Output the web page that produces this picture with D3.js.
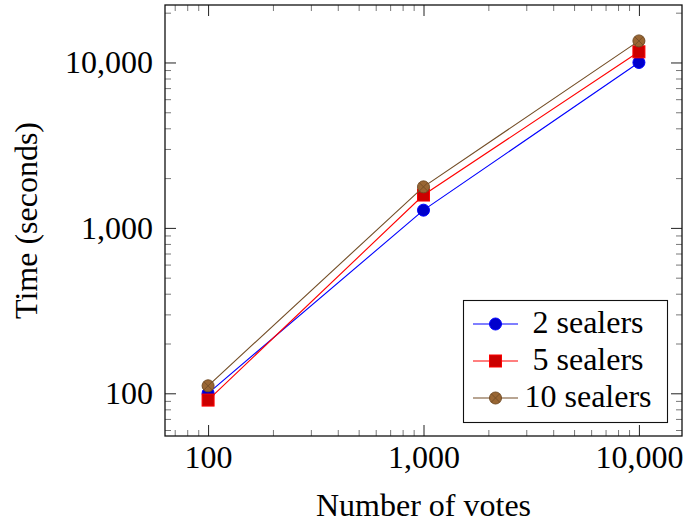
<!DOCTYPE html>
<html>
<head>
<meta charset="utf-8">
<script src="https://cdn.jsdelivr.net/npm/d3@7"></script>
<style>
  html, body { margin: 0; padding: 0; background: #fff; }
  svg { display: block; }
</style>
</head>
<body>
<svg id="chart" width="685" height="522"></svg>
<script>
// ---- data ----
const votes = [100, 1000, 10000];
const seriesNames = ["2 sealers", "5 sealers", "10 sealers"];
const sealers2 = [100, 1280, 10000];
const sealers5 = [91, 1580, 11600];
const sealers10 = [111, 1770, 13500];
const xTickValues = [100, 1000, 10000];
const yTickValues = [100, 1000, 10000];
const xLabel = "Number of votes";
const yLabel = "Time (seconds)";

const series = [
  { name: seriesNames[0], values: sealers2, line: "#0000ff", fill: "#0000cc", stroke: "#0000ff", mark: "circle" },
  { name: seriesNames[1], values: sealers5, line: "#ff0000", fill: "#cc0000", stroke: "#ff0000", mark: "square" },
  { name: seriesNames[2], values: sealers10, line: "#734d26", fill: "#996633", stroke: "#734d26", mark: "otimes" }
];

// ---- font selection: first installed serif, sized to match reference text width ----
const cvs = document.createElement("canvas").getContext("2d");
function w(font, txt) { cvs.font = font; return cvs.measureText(txt).width; }
const candidates = ["Liberation Serif", "DejaVu Serif", "Noto Serif", "Times New Roman"];
let FONT = "serif";
for (const f of candidates) {
  const a = w(`30px '${f}', monospace`, xLabel), b = w("30px monospace", xLabel);
  const c = w(`30px '${f}', sans-serif`, xLabel), d = w("30px sans-serif", xLabel);
  if (Math.abs(a - b) > 0.5 || Math.abs(c - d) > 0.5) { FONT = f; break; }
}
const measured = w(`30px '${FONT}', serif`, xLabel);
let FS = 30 * 224 / measured;
FS = Math.max(24, Math.min(32, FS));
const FAMILY = `'${FONT}', serif`;

const W = 685, H = 522;
const L = 165, R = 682, T = 5, B = 436;
const svg = d3.select("#chart");

function enlarged(vals) {
  const lo = Math.log10(d3.min(vals)), hi = Math.log10(d3.max(vals));
  const pad = 0.1 * (hi - lo);
  return [Math.pow(10, lo - pad), Math.pow(10, hi + pad)];
}
const allY = [].concat(sealers2, sealers5, sealers10);
const x = d3.scaleLog().domain(enlarged(votes)).range([L, R]);
const y = d3.scaleLog().domain(enlarged(allY)).range([B, T]);

function minorTicks(scale) {
  const [a, b] = scale.domain();
  const out = [];
  for (let e = Math.floor(Math.log10(a)); e <= Math.ceil(Math.log10(b)); e++) {
    for (let m = 2; m <= 9; m++) {
      const v = m * Math.pow(10, e);
      if (v >= a && v <= b) out.push(v);
    }
  }
  return out;
}
const fmt = d3.format(",");
const MAJ = 11, MIN = 6;

function styleAxis(g, minor) {
  g.select(".domain").remove();
  g.selectAll(".tick line").attr("stroke", minor ? "#555" : "#222").attr("stroke-width", minor ? 0.8 : 1);
  g.selectAll("text").style("font-size", FS + "px").style("font-family", FAMILY).attr("fill", "#000");
}

svg.append("g").attr("transform", `translate(0,${B})`)
  .call(d3.axisBottom(x).tickValues(xTickValues).tickFormat(fmt).tickSize(-MAJ).tickPadding(9))
  .call(g => styleAxis(g, false));
svg.append("g").attr("transform", `translate(0,${B})`)
  .call(d3.axisBottom(x).tickValues(minorTicks(x)).tickFormat("").tickSize(-MIN))
  .call(g => styleAxis(g, true));
svg.append("g").attr("transform", `translate(0,${T})`)
  .call(d3.axisTop(x).tickValues(xTickValues).tickFormat("").tickSize(-MAJ))
  .call(g => styleAxis(g, false));
svg.append("g").attr("transform", `translate(0,${T})`)
  .call(d3.axisTop(x).tickValues(minorTicks(x)).tickFormat("").tickSize(-MIN))
  .call(g => styleAxis(g, true));

svg.append("g").attr("transform", `translate(${L},0)`)
  .call(d3.axisLeft(y).tickValues(yTickValues).tickFormat(fmt).tickSize(-MAJ).tickPadding(12))
  .call(g => styleAxis(g, false));
svg.append("g").attr("transform", `translate(${L},0)`)
  .call(d3.axisLeft(y).tickValues(minorTicks(y)).tickFormat("").tickSize(-MIN))
  .call(g => styleAxis(g, true));
svg.append("g").attr("transform", `translate(${R},0)`)
  .call(d3.axisRight(y).tickValues(yTickValues).tickFormat("").tickSize(-MAJ))
  .call(g => styleAxis(g, false));
svg.append("g").attr("transform", `translate(${R},0)`)
  .call(d3.axisRight(y).tickValues(minorTicks(y)).tickFormat("").tickSize(-MIN))
  .call(g => styleAxis(g, true));

svg.append("rect").attr("x", L).attr("y", T).attr("width", R - L).attr("height", B - T)
  .attr("fill", "none").attr("stroke", "#111").attr("stroke-width", 1.3);

svg.append("text").attr("x", (L + R) / 2).attr("y", 516).attr("text-anchor", "middle")
  .style("font-size", FS + "px").style("font-family", FAMILY).attr("fill", "#000").text(xLabel);
svg.append("text").attr("transform", `translate(37,${(T + B) / 2}) rotate(-90)`).attr("text-anchor", "middle")
  .style("font-size", FS + "px").style("font-family", FAMILY).attr("fill", "#000").text(yLabel);

const MR = 6;
function drawMark(g, s, cx, cy) {
  if (s.mark === "circle") {
    g.append("circle").attr("cx", cx).attr("cy", cy).attr("r", MR)
      .attr("fill", s.fill).attr("stroke", s.stroke).attr("stroke-width", 1);
  } else if (s.mark === "square") {
    g.append("rect").attr("x", cx - MR).attr("y", cy - MR).attr("width", 2 * MR).attr("height", 2 * MR)
      .attr("fill", s.fill).attr("stroke", s.stroke).attr("stroke-width", 1);
  } else {
    g.append("circle").attr("cx", cx).attr("cy", cy).attr("r", MR)
      .attr("fill", s.fill).attr("stroke", s.stroke).attr("stroke-width", 1);
    const d = MR * Math.SQRT1_2;
    g.append("path").attr("d", `M${cx - d},${cy - d}L${cx + d},${cy + d}M${cx - d},${cy + d}L${cx + d},${cy - d}`)
      .attr("stroke", s.stroke).attr("stroke-width", 0.9);
  }
}

const line = d3.line().x(d => x(d[0])).y(d => y(d[1]));
const plot = svg.append("g");
series.forEach(s => {
  const pts = votes.map((v, i) => [v, s.values[i]]);
  plot.append("path").datum(pts).attr("d", line).attr("fill", "none")
    .attr("stroke", s.line).attr("stroke-width", 1.1);
  pts.forEach(p => drawMark(plot, s, x(p[0]), y(p[1])));
});

const lg = svg.append("g");
lg.append("rect").attr("x", 463.5).attr("y", 300.5).attr("width", 204).attr("height", 122)
  .attr("fill", "#fff").attr("stroke", "#111").attr("stroke-width", 1.1);
const rowY = [324, 361, 398];
series.forEach((s, i) => {
  const cy = rowY[i];
  lg.append("line").attr("x1", 473).attr("x2", 518).attr("y1", cy).attr("y2", cy)
    .attr("stroke", s.line).attr("stroke-width", 1.1);
  drawMark(lg, s, 495.5, cy);
  lg.append("text").attr("x", 588).attr("y", cy + 9).attr("text-anchor", "middle")
    .style("font-size", FS + "px").style("font-family", FAMILY).attr("fill", "#000").text(s.name);
});
</script>
</body>
</html>
